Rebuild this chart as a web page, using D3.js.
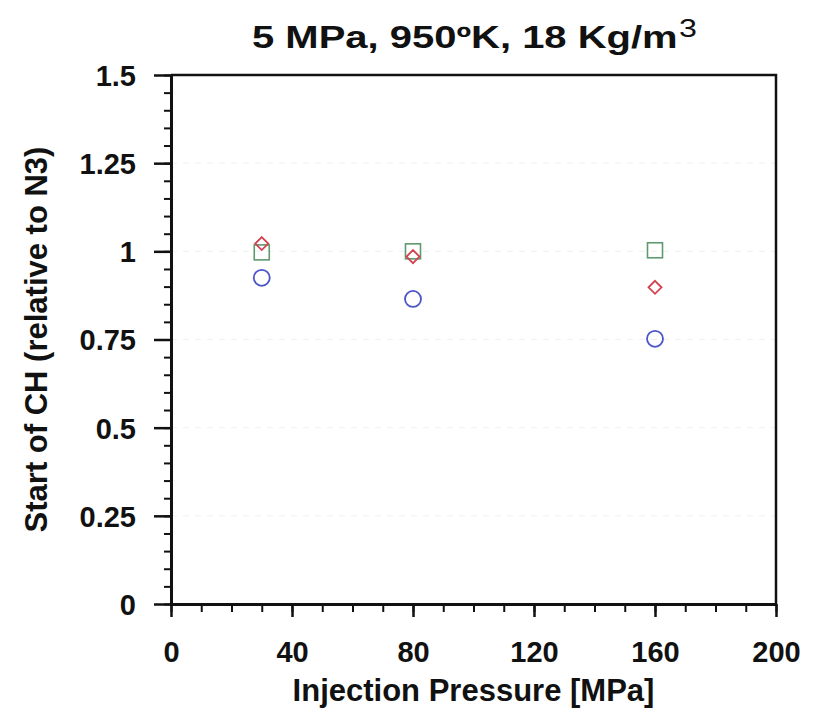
<!DOCTYPE html>
<html>
<head>
<meta charset="utf-8">
<script src="https://cdn.jsdelivr.net/npm/d3@7"></script>
<style>
  body { margin: 0; background: #fff; }
  text { font-family: "Liberation Sans", Arial, sans-serif; font-weight: bold; fill: #111; }
</style>
</head>
<body>
<svg id="chart"></svg>
<script>
// Chart size
const width = 818, height = 712;

// Data
const pressures = [30, 80, 160];
const squareValues = [0.997, 1.0, 1.003];
const diamondValues = [1.022, 0.985, 0.898];
const circleValues = [0.925, 0.865, 0.752];
const xTicks = [0, 40, 80, 120, 160, 200];
const yTicks = [0, 0.25, 0.5, 0.75, 1, 1.25, 1.5];
const yTickLabels = ["0", "0.25", "0.5", "0.75", "1", "1.25", "1.5"];

const margin = { left: 171, right: 42, top: 75, bottom: 108 };

const svg = d3.select("#chart")
  .attr("width", width)
  .attr("height", height);

// Scales
const x = d3.scaleLinear().domain([0, 200]).range([margin.left, width - margin.right]);
const y = d3.scaleLinear().domain([0, 1.5]).range([height - margin.bottom, margin.top]);

// Very faint grid
svg.append("g")
  .selectAll("line")
  .data(yTicks.slice(1, -1))
  .join("line")
  .attr("x1", x(0)).attr("x2", x(200))
  .attr("y1", d => y(d)).attr("y2", d => y(d))
  .attr("stroke", "#f0f0f0")
  .attr("stroke-dasharray", "6,6");

// Frame (top and right)
svg.append("path")
  .attr("d", `M${x(0)},${y(1.5)}H${x(200)}V${y(0)}`)
  .attr("fill", "none")
  .attr("stroke", "#111")
  .attr("stroke-width", 2.5);

// Left axis: minor then major ticks
svg.append("g")
  .attr("transform", `translate(${x(0)},0)`)
  .call(d3.axisLeft(y).tickValues(d3.range(0, 1.501, 0.05)).tickSize(7).tickFormat(""))
  .call(g => g.selectAll(".tick line").attr("stroke-width", 2).attr("stroke", "#111"))
  .call(g => g.select(".domain").remove());

svg.append("g")
  .attr("transform", `translate(${x(0)},0)`)
  .call(d3.axisLeft(y).tickValues(yTicks).tickSize(17).tickSizeOuter(0).tickPadding(18)
    .tickFormat((d, i) => yTickLabels[i]))
  .call(g => g.selectAll(".tick line").attr("stroke-width", 2.5).attr("stroke", "#111"))
  .call(g => g.selectAll(".tick text").style("font-size", "29px").attr("dy", "0.36em"))
  .call(g => g.select(".domain").attr("stroke-width", 3).attr("stroke", "#111"));

// Bottom axis: minor then major ticks
svg.append("g")
  .attr("transform", `translate(0,${y(0)})`)
  .call(d3.axisBottom(x).tickValues(d3.range(0, 201, 10)).tickSize(8).tickFormat(""))
  .call(g => g.selectAll(".tick line").attr("stroke-width", 2).attr("stroke", "#111"))
  .call(g => g.select(".domain").remove());

svg.append("g")
  .attr("transform", `translate(0,${y(0)})`)
  .call(d3.axisBottom(x).tickValues(xTicks).tickSize(13).tickSizeOuter(0).tickPadding(24))
  .call(g => g.selectAll(".tick line").attr("stroke-width", 2.5).attr("stroke", "#111"))
  .call(g => g.selectAll(".tick text").style("font-size", "29px"))
  .call(g => g.select(".domain").attr("stroke-width", 3).attr("stroke", "#111"));

// Markers
const pts = (vals) => pressures.map((p, i) => ({ x: p, y: vals[i] }));

svg.append("g")
  .selectAll("rect")
  .data(pts(squareValues))
  .join("rect")
  .attr("x", d => x(d.x) - 7.5).attr("y", d => y(d.y) - 7.5)
  .attr("width", 15).attr("height", 15)
  .attr("fill", "none")
  .attr("stroke", "#5f9a6e")
  .attr("stroke-width", 1.6);

svg.append("g")
  .selectAll("circle")
  .data(pts(circleValues))
  .join("circle")
  .attr("cx", d => x(d.x)).attr("cy", d => y(d.y))
  .attr("r", 8)
  .attr("fill", "none")
  .attr("stroke", "#4b55c8")
  .attr("stroke-width", 1.8);

svg.append("g")
  .selectAll("path")
  .data(pts(diamondValues))
  .join("path")
  .attr("transform", d => `translate(${x(d.x)},${y(d.y)})`)
  .attr("d", "M0,-6.5L6.5,0L0,6.5L-6.5,0Z")
  .attr("fill", "none")
  .attr("stroke", "#d2414f")
  .attr("stroke-width", 1.8);

// Title (glyphs are wide in the original, so stretch horizontally)
const title = svg.append("text")
  .attr("transform", "translate(252,48) scale(1.29,1)")
  .style("font-size", "31px");
title.append("tspan").text("5 MPa, 950ºK, 18 Kg/m");
title.append("tspan")
  .attr("dy", -11)
  .attr("dx", 1)
  .style("font-size", "25px")
  .style("font-weight", "normal")
  .text("3");

// Axis titles
svg.append("text")
  .attr("x", (x(0) + x(200)) / 2).attr("y", 701)
  .attr("text-anchor", "middle")
  .style("font-size", "31px")
  .text("Injection Pressure [MPa]");

svg.append("text")
  .attr("transform", `translate(47,${(y(0) + y(1.5)) / 2}) rotate(-90)`)
  .attr("text-anchor", "middle")
  .style("font-size", "31px")
  .text("Start of CH (relative to N3)");
</script>
</body>
</html>
